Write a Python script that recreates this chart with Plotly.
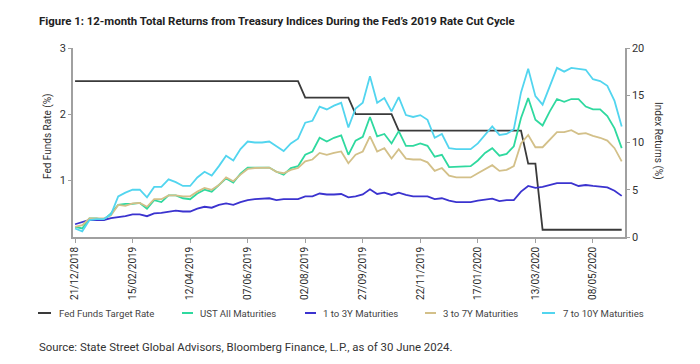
import pandas as pd
import plotly.graph_objects as go

# ---------------- data ----------------
start_date = "2018-12-21"
n_weeks = 77
dates = pd.date_range(start_date, periods=n_weeks, freq="7D")

tick_labels = ["21/12/2018", "15/02/2019", "12/04/2019", "07/06/2019", "02/08/2019",
               "27/09/2019", "22/11/2019", "17/01/2020", "13/03/2020", "08/05/2020"]
tick_dates = pd.to_datetime(tick_labels, format="%d/%m/%Y")

fed_funds = ([2.5] * 32 + [2.25] * 7 + [2.0] * 6 + [1.75] * 18 + [1.25] * 2 + [0.25] * 12)

ust_all = [1.07, 0.9, 1.96, 1.96, 1.8, 2.5, 3.4, 3.5, 3.5, 3.6,
           3.0, 3.9, 3.7, 4.4, 4.4, 4.1, 4.0, 4.6, 5.0, 4.8,
           5.5, 6.2, 5.75, 6.7, 7.35, 7.35, 7.35, 7.35, 6.9, 6.6,
           7.3, 7.5, 8.7, 9.05, 10.5, 10.1, 10.5, 10.75, 8.7, 10.2,
           10.6, 12.7, 10.65, 10.9, 9.9, 11.2, 9.65, 9.65, 9.9, 9.65,
           8.5, 8.7, 7.4, 7.45, 7.45, 7.5, 8.1, 8.9, 9.4, 8.6,
           8.8, 9.6, 12.6, 14.7, 12.4, 11.8, 13.3, 14.6, 14.3, 14.6,
           14.6, 13.8, 13.5, 13.5, 12.8, 11.5, 9.4]

y1_3 = [1.35, 1.6, 1.8, 1.8, 1.8, 2.0, 2.1, 2.2, 2.4, 2.4,
        2.2, 2.5, 2.55, 2.7, 2.8, 2.7, 2.7, 3.0, 3.2, 3.1,
        3.4, 3.55, 3.4, 3.7, 3.9, 4.0, 4.05, 4.1, 3.9, 4.0,
        4.0, 4.0, 4.3, 4.3, 4.6, 4.5, 4.5, 4.55, 4.2, 4.3,
        4.5, 5.05, 4.55, 4.7, 4.45, 4.7, 4.45, 4.3, 4.3, 4.3,
        4.0, 4.1, 3.85, 3.7, 3.7, 3.7, 3.85, 3.95, 4.05, 3.8,
        3.9, 3.9, 4.8, 5.4, 5.2, 5.3, 5.5, 5.7, 5.7, 5.7,
        5.4, 5.5, 5.4, 5.3, 5.25, 4.9, 4.35]

y3_7 = [1.07, 1.25, 1.96, 1.96, 1.96, 2.3, 3.4, 3.3, 3.55, 3.6,
        3.2, 4.0, 4.0, 4.4, 4.4, 4.3, 4.3, 4.8, 5.2, 5.0,
        5.5, 6.3, 5.9, 6.6, 7.2, 7.3, 7.3, 7.35, 6.9, 6.75,
        7.1, 7.3, 8.0, 8.2, 8.9, 8.7, 8.9, 9.05, 7.8, 8.7,
        9.05, 10.65, 9.05, 9.4, 8.3, 9.3, 8.3, 8.2, 8.2, 7.9,
        7.0, 7.3, 6.5, 6.3, 6.3, 6.3, 6.75, 7.2, 7.6, 7.0,
        7.1, 7.5, 9.9, 10.8, 9.5, 9.5, 10.3, 11.1, 11.1, 11.3,
        10.9, 11.0, 10.7, 10.5, 10.2, 9.4, 8.0]

y7_10 = [0.9, 0.6, 1.8, 1.9, 1.9, 2.4, 4.3, 4.7, 5.0, 5.0,
         4.2, 5.3, 5.3, 6.1, 5.8, 5.4, 5.4, 6.3, 6.9, 6.5,
         7.5, 8.6, 8.1, 9.3, 10.1, 10.0, 10.0, 10.1, 9.6, 9.1,
         9.9, 10.4, 12.1, 12.3, 13.8, 13.5, 13.9, 14.2, 11.6, 13.6,
         14.2, 17.0, 14.2, 14.7, 13.3, 14.8, 12.9, 12.7, 12.9, 12.4,
         10.5, 10.9, 9.4, 9.3, 9.3, 9.3, 9.9, 10.8, 11.7, 10.8,
         10.9, 11.4, 15.3, 17.8, 14.9, 14.0, 16.0, 17.9, 17.5, 17.9,
         17.8, 17.7, 16.7, 16.5, 16.0, 14.4, 11.7]

series_names = ["Fed Funds Target Rate", "UST All Maturities", "1 to 3Y Maturities",
                "3 to 7Y Maturities", "7 to 10Y Maturities"]
series_values = [fed_funds, ust_all, y1_3, y3_7, y7_10]
series_colors = ["#3a3a3a", "#2fd99f", "#3b33cf", "#d3c089", "#52d5ef"]
series_axis = ["y", "y2", "y2", "y2", "y2"]

# ---------------- figure ----------------
FONT = "Roboto, Arial, sans-serif"
OFF = 8  # page body margin of the browser
W, H = 700 - OFF, 364 - OFF
L, T = 73 - OFF, 48 - OFF
R = W - (625 - OFF)
B = H - (237 - OFF)
pw = W - L - R
ph = H - T - B


def px_x(px):
    return (px - OFF - L) / pw


def px_y(py):
    return (T + ph - (py - OFF)) / ph


fig = go.Figure()
for name, vals, col, ax in zip(series_names, series_values, series_colors, series_axis):
    fig.add_trace(go.Scatter(x=dates, y=vals, name=name, mode="lines",
                             line=dict(color=col, width=1.8), yaxis=ax,
                             showlegend=False))

axis_col = "#a0a0a0"
fig.update_layout(
    width=W, height=H,
    margin=dict(l=L, r=R, t=T, b=B, pad=0),
    paper_bgcolor="white", plot_bgcolor="white",
    font=dict(family=FONT, size=10, color="#333"),
    xaxis=dict(type="date",
               range=[dates[0] - pd.Timedelta(days=2), dates[-1] + pd.Timedelta(days=3.2)],
               tickvals=tick_dates, ticktext=tick_labels, tickangle=-90,
               showline=True, linecolor=axis_col, linewidth=1.5,
               ticks="outside", ticklen=4, tickcolor=axis_col,
               showgrid=False, zeroline=False,
               tickfont=dict(size=10, color="#2a2a2a")),
    yaxis=dict(range=[0.14, 3], tickvals=[1, 2, 3],
               showline=True, linecolor=axis_col, linewidth=1.5,
               ticks="outside", ticklen=3, tickcolor=axis_col,
               showgrid=False, zeroline=False,
               tickfont=dict(size=11, color="#333")),
    yaxis2=dict(range=[0, 20], tickvals=[0, 5, 10, 15, 20], overlaying="y", side="right",
                showline=True, linecolor=axis_col, linewidth=1.5,
                ticks="outside", ticklen=3, tickcolor=axis_col,
                showgrid=False, zeroline=False,
                tickfont=dict(size=11, color="#333")),
)

annotations = [
    dict(text="<b>Figure 1: 12-month Total Returns from Treasury Indices During the Fed’s 2019 Rate Cut Cycle</b>",
         x=px_x(37), y=px_y(21), xanchor="left", yanchor="middle",
         font=dict(size=11.4, color="#222")),
    dict(text="Source: State Street Global Advisors, Bloomberg Finance, L.P., as of 30 June 2024.",
         x=px_x(37), y=px_y(347), xanchor="left", yanchor="middle",
         font=dict(size=11.4, color="#333")),
    dict(text="Fed Funds Rate (%)", textangle=-90, x=px_x(48), y=px_y(137),
         xanchor="center", yanchor="middle", font=dict(size=10, color="#333")),
    dict(text="Index Returns (%)", textangle=90, x=px_x(658), y=px_y(141),
         xanchor="center", yanchor="middle", font=dict(size=10, color="#333")),
]

# legend drawn manually (short line samples as in the reference)
legend_line_x = [(38, 51), (182, 193), (305, 316), (425, 436), (542, 555)]
legend_text_x = [57, 198, 321, 441, 561]
legend_y = 313
shapes = []
for name, col, (x0, x1), tx in zip(series_names, series_colors, legend_line_x, legend_text_x):
    shapes.append(dict(type="line", xref="paper", yref="paper",
                       x0=px_x(x0), x1=px_x(x1), y0=px_y(legend_y), y1=px_y(legend_y),
                       line=dict(color=col, width=2)))
    annotations.append(dict(text=name, x=px_x(tx), y=px_y(legend_y), xanchor="left",
                            yanchor="middle", font=dict(size=9.6, color="#444")))

for a in annotations:
    a.update(xref="paper", yref="paper", showarrow=False)

fig.update_layout(annotations=annotations, shapes=shapes)
fig.write_html("out.html")
